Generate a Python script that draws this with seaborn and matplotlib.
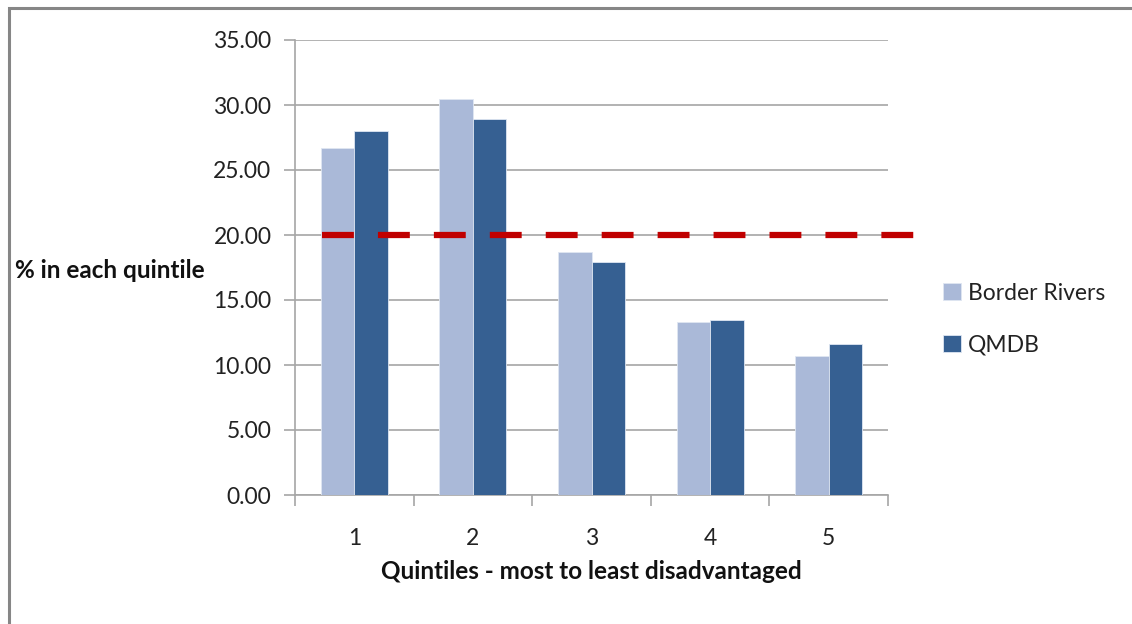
import matplotlib
matplotlib.use("Agg")
import matplotlib.pyplot as plt
from matplotlib.patches import Rectangle
from matplotlib.ticker import MultipleLocator, FixedLocator
import seaborn as sns
import pandas as pd

quintiles = ["1", "2", "3", "4", "5"]
border_rivers = [26.7, 30.45, 18.7, 13.3, 10.7]
qmdb = [28.0, 28.9, 17.9, 13.5, 11.6]
series_names = ["Border Rivers", "QMDB"]
reference_share = 20.0

df = pd.DataFrame({
    "quintile": quintiles * 2,
    "value": border_rivers + qmdb,
    "series": [series_names[0]] * 5 + [series_names[1]] * 5,
})

sns.set_theme(style="white")
plt.rcParams["font.family"] = ["Lato", "DejaVu Sans"]

fig = plt.figure(figsize=(11.32, 6.24), dpi=100)
ax = fig.add_axes([295 / 1132, 1 - 495 / 624, (888 - 295) / 1132, (495 - 40) / 624])

palette = {"Border Rivers": "#AAB9D8", "QMDB": "#366092"}
sns.barplot(data=df, x="quintile", y="value", hue="series", palette=palette,
            width=0.565, gap=0, ax=ax, edgecolor="#dfe6f2", linewidth=0.6,
            errorbar=None, saturation=1, zorder=3)

ax.set_ylim(0, 35)
ax.set_xlim(-0.5, 4.5)
ax.yaxis.set_major_locator(MultipleLocator(5))
ax.set_yticklabels([f"{v:.2f}" for v in ax.get_yticks()])
ax.yaxis.grid(True, color="#a6a6a6", linewidth=1.2, zorder=0)
ax.set_axisbelow(True)

# dashed reference line at 20%
ax.plot([-0.27, 4.73], [reference_share, reference_share], color="#C00000",
        linewidth=4.5, linestyle=(0, (5.1, 3.85)), clip_on=False, zorder=4,
        solid_capstyle="butt", dash_capstyle="butt")

for side in ["top", "right"]:
    ax.spines[side].set_visible(False)
for side in ["left", "bottom"]:
    ax.spines[side].set_color("#a6a6a6")
    ax.spines[side].set_linewidth(1.2)

ax.tick_params(axis="y", which="major", left=True, length=8, color="#a6a6a6",
               width=1.2, labelsize=16.5, labelcolor="#222222", pad=9)
ax.tick_params(axis="x", which="major", length=0, labelsize=16.5,
               labelcolor="#222222", pad=24)
ax.xaxis.set_minor_locator(FixedLocator([-0.5, 0.5, 1.5, 2.5, 3.5, 4.5]))
ax.tick_params(axis="x", which="minor", bottom=True, length=8,
               color="#a6a6a6", width=1.2)

ax.set_xlabel("Quintiles - most to least disadvantaged", fontsize=17.5,
              fontweight="bold", color="#111111", labelpad=8)
ax.set_ylabel("")
fig.text(15 / 1132, 1 - 270 / 624, "% in each quintile", fontsize=17.5,
         fontweight="bold", color="#111111", va="center", ha="left")

leg = ax.legend(loc="center left", bbox_to_anchor=(922 / 1132, 1 - 319 / 624),
                bbox_transform=fig.transFigure, frameon=False, fontsize=16.5,
                handlelength=0.8, handleheight=0.8, handletextpad=0.3,
                labelspacing=1.35, labelcolor="#222222")

# outer chart frame
fig.add_artist(Rectangle((8.5 / 1132, -0.1), 1.2, 1 - 7.5 / 624 + 0.1,
                         transform=fig.transFigure, fill=False,
                         edgecolor="#868686", linewidth=2.2))

fig.savefig("out.png", dpi=100, facecolor="white")
